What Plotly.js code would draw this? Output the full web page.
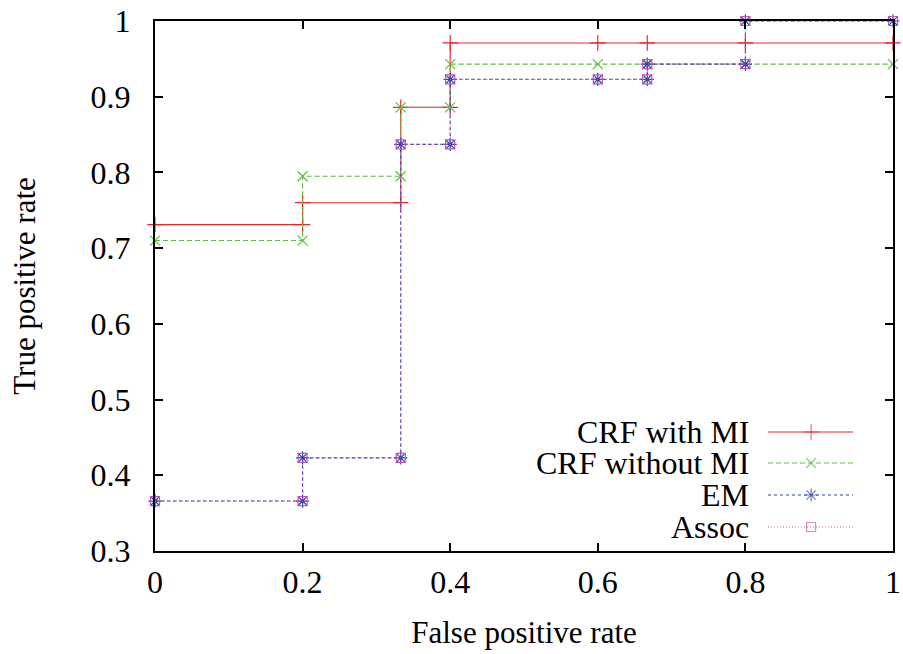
<!DOCTYPE html>
<html>
<head>
<meta charset="utf-8">
<script src="https://cdn.plot.ly/plotly-3.0.1.min.js"></script>
<style>html,body{margin:0;padding:0;background:#fff;overflow:hidden;}#chart{width:903px;height:654px;}</style>
</head>
<body>
<div id="chart"></div>
<script>
// ---- data ----
const seriesNames = ["CRF with MI", "CRF without MI", "EM", "Assoc"];

const crfMiX = [0, 0.2, 0.2, 0.333, 0.333, 0.4, 0.4, 0.6, 0.667, 0.8, 1];
const crfMiY = [0.731, 0.731, 0.76, 0.76, 0.886, 0.886, 0.971, 0.971, 0.971, 0.971, 0.971];

const crfNoMiX = [0, 0.2, 0.2, 0.333, 0.333, 0.4, 0.4, 0.6, 0.667, 0.8, 1];
const crfNoMiY = [0.71, 0.71, 0.795, 0.795, 0.886, 0.886, 0.943, 0.943, 0.943, 0.943, 0.943];

const emX = [0, 0.2, 0.2, 0.333, 0.333, 0.4, 0.4, 0.6, 0.667, 0.667, 0.8, 0.8, 1];
const emY = [0.366, 0.366, 0.423, 0.423, 0.837, 0.837, 0.923, 0.923, 0.923, 0.943, 0.943, 1.0, 1.0];

const assocX = [0, 0.2, 0.2, 0.333, 0.333, 0.4, 0.4, 0.6, 0.667, 0.667, 0.8, 0.8, 1];
const assocY = [0.366, 0.366, 0.423, 0.423, 0.837, 0.837, 0.923, 0.923, 0.923, 0.943, 0.943, 1.0, 1.0];

const xTickVals = [0, 0.2, 0.4, 0.6, 0.8, 1];
const xTickText = ["0", "0.2", "0.4", "0.6", "0.8", "1"];
const yTickVals = [0.3, 0.4, 0.5, 0.6, 0.7, 0.8, 0.9, 1];
const yTickText = ["0.3", "0.4", "0.5", "0.6", "0.7", "0.8", "0.9", "1"];

// ---- styles ----
const colors = ["#e8262b", "#5cbf3c", "#2a45a8", "#c455b4"];
const dashes = ["solid", "5px,3px", "3px,3px", "1px,2px"];
const symbols = ["cross-thin-open", "x-thin-open", "asterisk-open", "square-open"];
const sizes = [11, 10, 11, 9];
const xs = [crfMiX, crfNoMiX, emX, assocX];
const ys = [crfMiY, crfNoMiY, emY, assocY];

const FONT = "Liberation Serif";
const FS = 32;
const TFS = 31;

const traces = [];
for (let i = 0; i < 4; i++) {
  traces.push({
    type: "scatter", mode: "lines+markers", name: seriesNames[i],
    x: xs[i], y: ys[i], cliponaxis: false,
    line: {color: colors[i], width: 1.1, dash: dashes[i]},
    marker: {symbol: symbols[i], size: sizes[i], color: colors[i], line: {color: colors[i], width: 1.2}},
    showlegend: false
  });
}

// custom gnuplot-style key: text right-aligned, sample at right
const keyRows = [0.2245, 0.166, 0.1057, 0.0453];
const annotations = [];
for (let i = 0; i < 4; i++) {
  traces.push({
    type: "scatter", mode: "lines+markers", xaxis: "x2", yaxis: "y2",
    x: [0.8306, 0.889, 0.9458], y: [keyRows[i], keyRows[i], keyRows[i]],
    line: {color: colors[i], width: 1.1, dash: dashes[i]},
    marker: {symbol: symbols[i], size: [0, sizes[i], 0], color: colors[i], line: {color: colors[i], width: 1.2}},
    showlegend: false, hoverinfo: "skip"
  });
  annotations.push({
    xref: "paper", yref: "paper", x: 0.807, y: keyRows[i],
    xanchor: "right", yanchor: "middle", showarrow: false,
    text: seriesNames[i], font: {family: FONT, size: FS, color: "#000"}
  });
}

const layout = {
  width: 903, height: 654,
  margin: {l: 155, r: 10, t: 21, b: 103},
  paper_bgcolor: "#fff", plot_bgcolor: "#fff",
  font: {family: FONT, size: FS, color: "#000"},
  showlegend: false,
  xaxis: {
    range: [0, 1], tickvals: xTickVals, ticktext: xTickText,
    showgrid: false, zeroline: false, showline: true, linecolor: "#000", linewidth: 2,
    mirror: "allticks", ticks: "inside", ticklen: 8, tickwidth: 1.5, tickcolor: "#000",
    ticklabelstandoff: 2,
    tickfont: {family: FONT, size: FS, color: "#000"},
    title: {text: "False positive rate", font: {family: FONT, size: TFS, color: "#000"}, standoff: 22}
  },
  yaxis: {
    range: [0.3, 1], tickvals: yTickVals, ticktext: yTickText,
    showgrid: false, zeroline: false, showline: true, linecolor: "#000", linewidth: 2,
    mirror: "allticks", ticks: "inside", ticklen: 8, tickwidth: 1.5, tickcolor: "#000",
    ticklabelstandoff: 16,
    tickfont: {family: FONT, size: FS, color: "#000"},
    title: {text: "True positive rate", font: {family: FONT, size: TFS, color: "#000"}, standoff: 46}
  },
  xaxis2: {range: [0, 1], overlaying: "x", visible: false, fixedrange: true},
  yaxis2: {range: [0, 1], overlaying: "y", visible: false, fixedrange: true},
  annotations: annotations
};

Plotly.newPlot("chart", traces, layout, {displayModeBar: false});
</script>
</body>
</html>
